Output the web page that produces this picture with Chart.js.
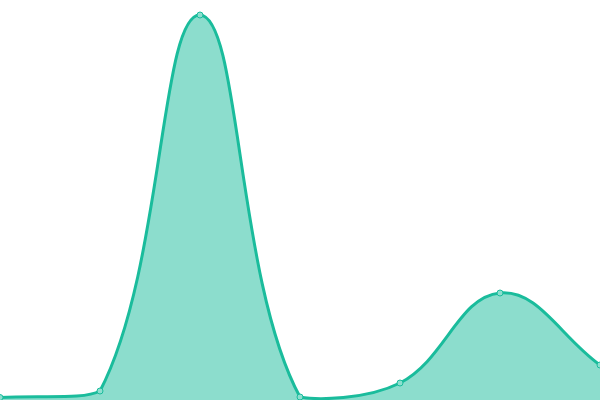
<!DOCTYPE html>
<html>
<head>
<meta charset="utf-8">
<script src="https://cdn.jsdelivr.net/npm/chart.js@4"></script>
<style>
html,body{margin:0;padding:0;background:#fff;}
#wrap{width:600px;height:400px;}
</style>
</head>
<body>
<div id="wrap"><canvas id="c"></canvas></div>
<script>
const labels = ["A", "B", "C", "D", "E", "F", "G"];
const values = [2.5, 9, 385, 3, 17, 107, 35];

new Chart(document.getElementById('c'), {
  type: 'line',
  data: {
    labels: labels,
    datasets: [{
      data: values,
      borderColor: '#1abc9c',
      backgroundColor: 'rgba(26,188,156,0.5)',
      fill: true,
      tension: 0.4,
      borderWidth: 3,
      pointRadius: 3,
      pointBorderWidth: 1,
      pointBackgroundColor: '#8ddfcf',
      pointBorderColor: '#1abc9c'
    }]
  },
  options: {
    responsive: true,
    maintainAspectRatio: false,
    animation: false,
    layout: { padding: 0, autoPadding: false },
    plugins: { legend: { display: false }, tooltip: { enabled: false } },
    scales: {
      x: { display: false, offset: false },
      y: { display: false, min: 0, max: 400 }
    }
  }
});
</script>
</body>
</html>
